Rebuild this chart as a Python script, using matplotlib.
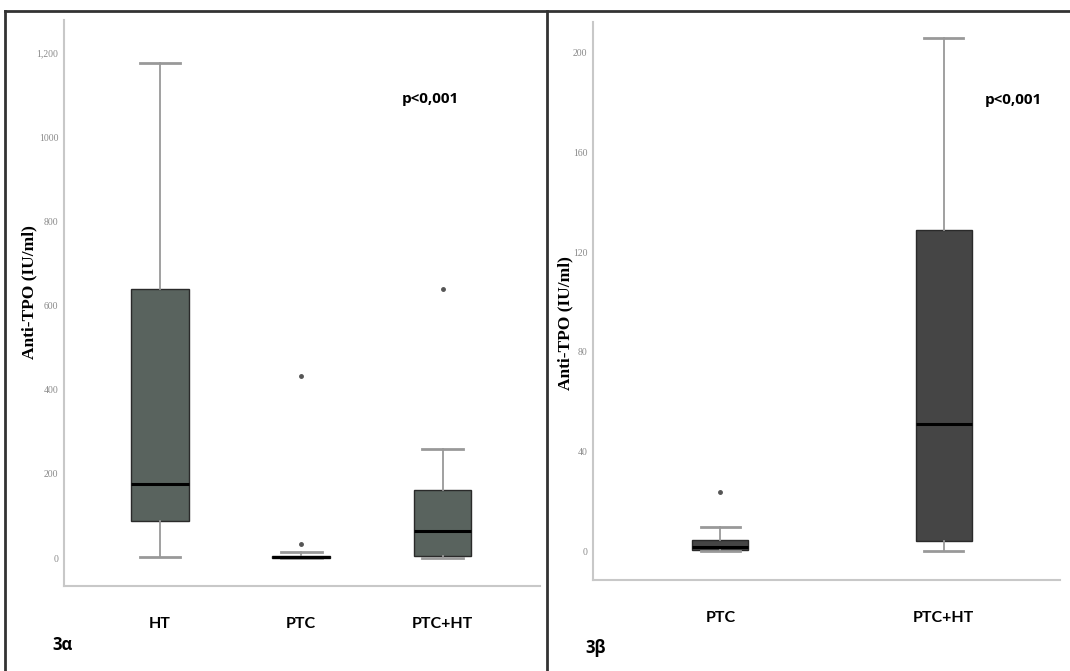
import matplotlib.pyplot as plt
from matplotlib.lines import Line2D

# Valores (Anti-TPO, IU/ml)
grupos_a = ['HT', 'PTC', 'PTC+HT']
min_a = [2, 0, 0]
q1_a = [88, 1, 5]
med_a = [176, 3, 64]
q3_a = [639, 6, 162]
max_a = [1176, 15, 259]
atipicos_a = [[], [33, 432], [639]]
ticks_a = [0, 200, 400, 600, 800, 1000, 1200]
etiquetas_a = ['0', '200', '400', '600', '800', '1000', '1,200']

grupos_b = ['PTC', 'PTC+HT']
min_b = [0, 0]
q1_b = [0.3, 4]
med_b = [1.8, 51]
q3_b = [4.5, 129]
max_b = [9.6, 206]
atipicos_b = [[23.7], []]
ticks_b = [0, 40, 80, 120, 160, 200]

W, H = 1070, 671
fig = plt.figure(figsize=(W / 100, H / 100), dpi=100)


def ax_px(x0, y0, x1, y1):
    # caja del eje en pixeles (arriba-izquierda, abajo-derecha)
    return fig.add_axes([x0 / W, 1 - y1 / H, (x1 - x0) / W, (y1 - y0) / H])


def dibujar(ax, grupos, mn, q1, med, q3, mx, fl, color, ancho):
    stats = []
    for i, g in enumerate(grupos):
        stats.append(dict(label=g, whislo=mn[i], q1=q1[i], med=med[i],
                          q3=q3[i], whishi=mx[i], fliers=fl[i]))
    ax.bxp(stats, positions=range(1, len(grupos) + 1), widths=ancho,
           patch_artist=True, showfliers=True,
           boxprops=dict(facecolor=color, edgecolor='#2a2a2a', linewidth=1),
           medianprops=dict(color='black', linewidth=2.2),
           whiskerprops=dict(color='#999999', linewidth=1.3),
           capprops=dict(color='#999999', linewidth=2),
           capwidths=ancho * 0.7,
           flierprops=dict(marker='o', markersize=2.5, markerfacecolor='#555555',
                           markeredgecolor='#555555'))
    for s in ['top', 'right']:
        ax.spines[s].set_visible(False)
    for s in ['left', 'bottom']:
        ax.spines[s].set_color('#c8c8c8')
        ax.spines[s].set_linewidth(1.5)
    ax.tick_params(axis='y', length=0, labelsize=7, labelcolor='#8a8a8a', pad=4)
    ax.tick_params(axis='x', length=0, labelsize=11.5, pad=22)
    for t in ax.get_xticklabels():
        t.set_family('Lato')
        t.set_fontweight('bold')
    ax.set_ylabel('Anti-TPO (IU/ml)', family='Liberation Serif', fontweight='bold',
                  fontsize=12.5)


# panel 3α
ax1 = ax_px(64, 20, 540, 586)
dibujar(ax1, grupos_a, min_a, q1_a, med_a, q3_a, max_a, atipicos_a, '#59635e', 0.41)
ax1.set_xlim(0.32, 3.69)
ax1.set_ylim(-66, 1278)
ax1.set_yticks(ticks_a)
ax1.set_yticklabels(etiquetas_a, family='Liberation Serif')
ax1.yaxis.set_label_coords(-0.055, 0.52)
ax1.text(0.77, 0.86, 'p<0,001', transform=ax1.transAxes, fontsize=11,
         fontweight='bold', family='Open Sans', ha='center', va='center')

# panel 3β
ax2 = ax_px(593, 22, 1060, 580)
dibujar(ax2, grupos_b, min_b, q1_b, med_b, q3_b, max_b, atipicos_b, '#454545', 0.25)
ax2.set_xlim(0.43, 2.52)
ax2.set_ylim(-11.6, 212.4)
ax2.set_yticks(ticks_b)
ax2.set_yticklabels([str(t) for t in ticks_b], family='Liberation Serif')
ax2.yaxis.set_label_coords(-0.043, 0.46)
ax2.text(0.9, 0.86, 'p<0,001', transform=ax2.transAxes, fontsize=11,
         fontweight='bold', family='Open Sans', ha='center', va='center')

# marco y etiquetas de panel
color_marco = '#333333'
fig.add_artist(Line2D([5 / W, 5 / W], [0, 1 - 11 / H], transform=fig.transFigure,
                      color=color_marco, linewidth=2))
fig.add_artist(Line2D([5 / W, 1], [1 - 11 / H, 1 - 11 / H], transform=fig.transFigure,
                      color=color_marco, linewidth=2))
fig.add_artist(Line2D([547 / W, 547 / W], [0, 1 - 11 / H], transform=fig.transFigure,
                      color=color_marco, linewidth=2))
fig.text(52 / W, 1 - 645 / H, '3α', fontsize=12, fontweight='bold', family='Open Sans',
         va='center')
fig.text(585 / W, 1 - 648 / H, '3β', fontsize=12, fontweight='bold', family='Open Sans',
         va='center')

fig.savefig('out.png', dpi=100)
